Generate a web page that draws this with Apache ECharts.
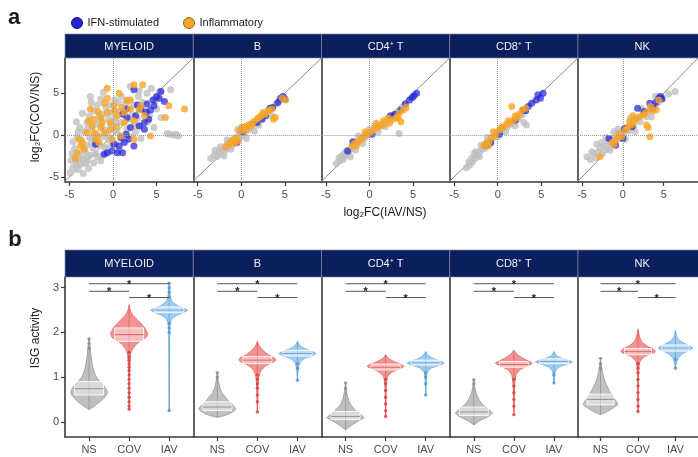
<!DOCTYPE html>
<html><head><meta charset="utf-8">
<script src="https://cdn.jsdelivr.net/npm/echarts@6/dist/echarts.min.js"></script>
<style>html,body{margin:0;padding:0;background:#fff}#c{width:698px;height:457px}</style>
</head><body><div id="c"></div>
<script>
// ---------------- DATA ----------------
const FACETS = ['MYELOID', 'B', 'CD4⁺ T', 'CD8⁺ T', 'NK'];
const GROUPS = ['NS', 'COV', 'IAV'];
const X_TICKS_A = [-5, 0, 5];
const Y_TICKS_A = [-5, 0, 5];
const Y_TICKS_B = [0, 1, 2, 3];

// panel a : log2FC(IAV/NS) vs log2FC(COV/NS)
const MYELOID_GRAY = [[-4.9,-4.5],[-4.6,-3.9],[-4.3,-3.2],[-4.8,-3.0],[-4.0,-4.1],[-3.7,-3.5],[-3.5,-2.8],[-3.9,-2.2],[-4.4,-1.6],[-3.2,-2.0],[-2.9,-3.0],[-2.6,-2.4],[-3.0,-1.2],[-3.6,-0.6],[-4.1,-0.2],[-3.3,0.4],[-2.7,-0.3],[-2.3,-1.5],[-2.0,-2.2],[-1.6,-1.2],[-2.4,0.9],[-3.0,1.5],[-2.7,2.3],[-2.2,2.9],[-1.8,3.6],[-2.5,3.9],[-1.4,4.3],[-1.1,2.5],[-1.5,1.6],[-0.9,0.6],[-0.5,-0.6],[-1.2,-0.2],[-0.3,1.2],[0.2,2.0],[0.5,0.3],[0.9,1.5],[1.3,3.1],[0.6,3.9],[1.0,4.6],[2.0,5.8],[1.7,4.0],[2.4,3.6],[2.9,4.6],[3.4,3.9],[3.9,5.0],[4.4,5.6],[3.6,2.9],[4.8,4.0],[5.0,3.1],[5.5,2.1],[4.7,0.9],[4.0,1.6],[3.1,1.0],[2.6,0.4],[2.1,-0.2],[1.6,0.7],[6.6,5.4],[6.5,0.1],[6.9,0.0],[7.2,0.1],[7.5,-0.1],[6.2,0.2],[-1.9,0.2],[-2.8,-4.0],[-3.4,-4.6],[-4.5,-2.6],[-1.0,-1.4],[-0.6,0.0],[0.0,0.8],[-0.2,2.7],[-0.8,3.3],[-1.3,1.0],[-3.8,0.9],[-4.2,1.6],[-2.0,-0.8],[0.3,-1.0],[1.1,-0.5],[-4.7,-2.2],[-3.1,-3.4],[-2.2,-3.3],[2.2,2.4],[2.8,2.0],[3.2,-0.4],[5.3,5.2],[-3.8,-2.9],[-3.4,-1.4],[-2.5,-1.0],[-1.8,-2.6],[-1.2,-2.4],[-0.8,-1.6],[-2.9,0.8],[-2.0,1.3],[-1.6,2.4],[-0.5,1.9],[0.4,1.5],[0.8,2.8],[1.4,3.8],[0.2,4.2],[-0.4,3.6],[-3.5,2.6],[-4.0,0.4],[-4.6,-0.8],[-1.4,-3.1],[-0.2,-1.3],[1.9,1.9],[2.5,1.1],[0.7,-1.8],[-2.6,4.6],[-1.1,5.1],[3.0,5.3],[4.2,2.4],[-4.2,-3.6],[-3.0,-2.6],[-2.3,-0.3]];
const MYELOID_IFN = [[2.4,5.4],[5.5,5.2],[5.3,4.4],[4.6,4.2],[5.9,4.0],[3.9,3.7],[4.7,3.5],[3.2,3.1],[3.8,2.7],[1.6,3.1],[1.1,2.5],[1.6,2.1],[2.6,2.3],[3.6,1.5],[3.6,0.7],[2.0,0.9],[1.5,0.1],[0.9,-0.3],[1.8,-0.5],[1.3,-0.9],[0.7,-1.3],[0.1,-1.1],[-0.65,-2.1],[-1.0,-2.3],[-0.1,-1.9],[1.1,-2.1],[-2.0,-1.1],[2.4,-1.3],[0.5,-2.1],[3.0,1.1],[4.1,1.9],[5.0,4.6],[4.3,3.0],[2.8,3.6]];
const MYELOID_INFL = [[-0.65,5.6],[2.4,6.0],[3.4,6.0],[-0.65,4.4],[0.7,5.0],[-1.0,3.8],[-2.6,3.1],[-2.2,1.9],[-2.4,1.1],[-3.9,-0.5],[-4.1,-2.1],[-3.7,-1.3],[-1.8,-0.1],[-1.0,0.3],[-0.3,1.5],[0.5,2.3],[1.3,2.7],[2.0,3.1],[3.2,3.5],[3.6,2.3],[6.4,3.5],[8.2,3.1],[6.0,2.1],[4.3,-0.1],[2.4,-0.5],[0.9,-0.1],[-0.1,-0.5],[-1.4,0.9],[-3.0,0.3],[-0.65,2.7],[-1.4,2.1],[0.1,3.5],[-2.2,0.3],[-3.3,-1.7],[-1.6,-0.9],[1.3,1.5],[2.4,1.7],[1.6,4.2],[-2.0,-0.5],[2.0,4.2],[-1.7,2.8],[-0.3,0.6],[0.4,1.0],[1.0,3.3],[-2.8,1.7],[-1.2,1.6],[0.2,2.9],[3.0,3.0],[-4.3,-2.8],[-3.5,-0.9]];

const B_GRAY = [[-3.5,-2.8],[-3.1,-2.4],[-2.8,-2.6],[-2.6,-2.0],[-2.3,-2.2],[-2.1,-1.6],[-1.9,-1.9],[-1.7,-1.2],[-1.5,-1.5],[-1.3,-0.9],[-1.1,-1.2],[-0.9,-0.5],[-0.7,-0.8],[-0.5,-0.2],[-0.3,-0.5],[-0.1,0.2],[0.1,-0.1],[0.3,0.6],[0.5,0.3],[0.8,1.0],[1.0,0.7],[1.3,1.3],[1.7,1.6],[2.2,2.0],[2.6,2.5],[3.1,2.9],[3.5,3.2],[4.0,3.7],[4.4,4.1],[-2.4,-1.4],[-2.0,-2.5],[-1.2,-1.7],[-0.4,0.7],[0.6,-0.4],[1.5,0.5],[-3.0,-1.8],[-1.6,-0.6],[0.0,0.9],[2.0,1.2],[3.5,2.3]];
const B_IFN = [[4.5,4.4],[4.8,4.6],[3.6,3.3],[2.8,2.3],[2.4,1.9],[4.2,3.9],[3.3,3.2],[1.8,1.5],[-0.5,-0.9],[0.2,0.4],[5.0,4.3]];
const B_INFL = [[-1.2,-0.8],[-0.9,-0.6],[-0.6,-0.4],[-0.4,-0.7],[-1.4,-1.1],[-0.8,-1.0],[0.1,0.9],[0.4,1.0],[0.8,1.2],[1.1,1.3],[1.4,1.6],[1.8,1.9],[2.0,2.1],[2.3,2.3],[2.7,2.5],[3.0,2.8],[3.2,2.9],[3.5,3.1],[3.9,2.1],[3.7,1.9],[4.7,4.4],[5.1,4.2],[0.6,0.7],[-0.2,0.5],[1.2,1.1],[-1.8,-1.4],[2.5,2.7],[0.3,0.5]];

const CD4_GRAY = [[-3.8,-3.4],[-3.4,-3.1],[-3.0,-2.9],[-3.2,-2.5],[-2.7,-2.4],[-2.4,-2.1],[-2.6,-1.8],[-2.1,-1.6],[-1.8,-1.4],[-1.9,-1.0],[-1.5,-0.9],[-1.2,-0.7],[-0.9,-0.3],[-0.6,-0.4],[-0.4,0.1],[-0.1,0.2],[0.2,0.4],[0.5,0.7],[0.9,0.8],[1.2,1.2],[1.6,1.4],[2.0,1.6],[2.4,2.0],[2.9,2.4],[3.3,2.8],[3.4,0.2],[-3.5,-2.7],[-2.9,-2.2],[-1.6,-1.8],[-0.8,-1.0],[0.0,0.7],[1.0,0.4],[-2.2,-2.6],[-1.3,-0.1],[0.6,1.2],[1.8,1.0]];
const CD4_IFN = [[4.6,4.2],[5.4,5.0],[4.9,4.5],[4.1,3.7],[3.6,3.0],[2.9,2.5],[-2.5,-1.9],[-1.9,-0.8],[0.3,0.1],[2.4,2.3],[5.1,4.7]];
const CD4_INFL = [[-2.0,-1.3],[-1.7,-1.0],[-1.3,-0.8],[-1.0,-0.5],[-0.7,-0.2],[-0.3,0.0],[0.0,0.3],[0.3,0.5],[0.6,0.8],[1.0,1.0],[1.4,1.1],[1.8,1.4],[2.3,1.4],[2.7,1.9],[3.1,2.1],[3.3,2.0],[3.6,1.6],[3.4,2.6],[3.9,3.0],[4.2,3.3],[0.8,1.4],[-0.5,0.4],[1.6,1.7],[2.1,2.0],[-1.5,-1.3]];

const CD8_GRAY = [[-3.6,-3.9],[-3.2,-3.6],[-2.9,-3.2],[-3.0,-2.8],[-2.6,-2.8],[-2.3,-2.4],[-2.5,-2.0],[-2.0,-1.9],[-1.7,-1.5],[-1.9,-1.2],[-1.4,-1.0],[-1.1,-0.8],[-0.8,-0.4],[-0.5,-0.3],[-0.2,0.1],[0.1,0.3],[0.4,0.4],[0.7,0.8],[1.1,1.0],[1.5,1.3],[1.9,1.5],[2.4,1.9],[2.8,2.4],[3.3,1.2],[3.0,1.5],[-3.3,-3.2],[-2.7,-2.2],[-1.5,-1.6],[-0.9,-1.0],[0.0,-0.2],[0.9,0.4],[-2.1,-2.6],[2.0,1.1],[-1.2,-0.3]];
const CD8_IFN = [[5.2,5.0],[4.9,4.4],[3.9,3.8],[3.5,3.4],[2.95,3.0],[4.4,4.2],[2.0,1.8],[-1.3,-1.2],[-0.8,-0.9],[0.2,0.1],[4.6,4.8],[3.2,2.9]];
const CD8_INFL = [[-1.6,-1.2],[-1.3,-1.0],[-1.0,-0.8],[-0.7,-0.3],[-0.5,0.4],[-0.2,0.3],[0.2,0.6],[0.6,1.0],[1.0,1.3],[1.4,1.5],[1.8,1.8],[2.2,2.1],[2.5,2.5],[2.8,3.0],[1.6,3.4],[3.2,3.2],[-1.1,-1.3],[0.4,0.9],[1.2,1.7],[2.0,2.3],[-0.3,-0.1]];

const NK_GRAY = [[-4.0,-2.9],[-3.6,-2.2],[-3.3,-2.7],[-3.0,-2.0],[-2.8,-1.5],[-2.5,-2.2],[-2.3,-1.3],[-2.0,-1.7],[-1.8,-0.8],[-1.5,-1.1],[-1.3,-0.4],[-1.0,-0.8],[-0.8,0.0],[-0.5,-0.4],[-0.2,0.4],[0.1,0.0],[0.4,0.9],[0.7,0.5],[1.0,1.4],[1.3,1.0],[1.7,1.9],[2.1,1.6],[2.5,2.6],[2.9,2.2],[3.3,3.1],[3.8,3.5],[4.3,3.9],[4.8,4.5],[6.4,5.2],[5.6,4.9],[-3.8,-2.0],[-2.6,-0.9],[-1.6,-1.8],[-0.6,0.7],[0.3,-0.5],[1.5,0.4],[2.3,3.1],[-3.2,-1.1],[-2.1,-0.3],[-1.1,0.4],[0.9,2.0],[3.5,2.2],[4.0,4.6],[-4.4,-2.6]];
const NK_IFN = [[-1.7,-0.4],[0.0,-0.4],[0.2,0.8],[1.8,3.2],[3.3,3.8],[3.7,3.2],[4.6,4.6],[4.0,3.9],[4.4,4.4],[2.6,2.8],[-0.9,-1.2],[1.1,1.0],[4.8,4.3]];
const NK_INFL = [[-2.8,-2.6],[-0.9,-0.6],[-0.15,-0.2],[1.0,1.2],[1.6,2.0],[2.5,2.4],[2.9,1.2],[3.3,-0.2],[4.1,3.0],[4.4,4.2],[-1.3,-0.9],[-0.6,-0.3],[0.3,0.6],[0.6,0.9],[1.3,1.5],[2.0,2.2],[2.8,2.7],[3.1,0.9],[3.6,2.9],[-0.4,0.2],[1.2,2.3],[3.4,3.4],[-1.1,-1.1],[0.8,1.6]];

// panel b : ISG activity violins, profile = [y, relative half-width]
const VIOLIN_MYELOID = [
  [[1.88,0],[1.7,0.05],[1.5,0.1],[1.3,0.17],[1.15,0.25],[1.0,0.4],[0.9,0.6],[0.8,0.82],[0.7,0.97],[0.65,1.0],[0.55,0.85],[0.45,0.6],[0.37,0.35],[0.3,0.1],[0.27,0]],
  [[2.62,0],[2.5,0.06],[2.4,0.18],[2.3,0.4],[2.2,0.65],[2.1,0.85],[2.0,0.98],[1.95,1.0],[1.88,0.9],[1.8,0.6],[1.72,0.35],[1.6,0.15],[1.5,0.08],[1.3,0.04],[1.0,0.02],[0.6,0.01],[0.28,0]],
  [[3.1,0],[2.95,0.03],[2.8,0.06],[2.7,0.15],[2.6,0.45],[2.52,0.9],[2.5,1.0],[2.45,0.8],[2.38,0.4],[2.3,0.15],[2.2,0.06],[2.0,0.03],[1.5,0.02],[0.25,0]]
];
const VIOLIN_B = [
  [[1.1,0],[0.95,0.05],[0.8,0.12],[0.65,0.25],[0.55,0.45],[0.45,0.65],[0.35,0.9],[0.28,1.0],[0.2,0.75],[0.14,0.4],[0.1,0]],
  [[1.8,0],[1.7,0.1],[1.6,0.3],[1.5,0.6],[1.42,0.95],[1.38,1.0],[1.32,0.8],[1.25,0.45],[1.15,0.2],[1.0,0.08],[0.8,0.04],[0.5,0.02],[0.22,0]],
  [[1.8,0],[1.72,0.1],[1.65,0.35],[1.58,0.75],[1.53,1.0],[1.48,0.8],[1.42,0.4],[1.33,0.15],[1.2,0.05],[0.93,0]]
];
const VIOLIN_CD4 = [
  [[0.87,0],[0.7,0.05],[0.55,0.12],[0.4,0.25],[0.3,0.45],[0.2,0.7],[0.12,0.95],[0.09,1.0],[0.02,0.7],[-0.07,0.35],[-0.18,0]],
  [[1.5,0],[1.42,0.15],[1.35,0.45],[1.28,0.85],[1.24,1.0],[1.18,0.7],[1.1,0.3],[1.0,0.1],[0.8,0.04],[0.5,0.02],[0.12,0]],
  [[1.57,0],[1.48,0.15],[1.4,0.5],[1.34,0.9],[1.31,1.0],[1.26,0.7],[1.2,0.3],[1.1,0.08],[0.9,0.03],[0.6,0]]
];
const VIOLIN_CD8 = [
  [[0.94,0],[0.8,0.05],[0.65,0.12],[0.5,0.28],[0.38,0.5],[0.28,0.8],[0.19,1.0],[0.1,0.7],[0.02,0.3],[-0.07,0]],
  [[1.6,0],[1.5,0.2],[1.42,0.5],[1.35,0.85],[1.31,1.0],[1.25,0.75],[1.17,0.35],[1.05,0.12],[0.8,0.04],[0.5,0.02],[0.16,0]],
  [[1.57,0],[1.48,0.15],[1.42,0.45],[1.37,0.85],[1.34,1.0],[1.29,0.7],[1.23,0.3],[1.13,0.08],[0.87,0]]
];
const VIOLIN_NK = [
  [[1.42,0],[1.25,0.05],[1.1,0.12],[0.95,0.22],[0.8,0.38],[0.65,0.58],[0.52,0.8],[0.42,0.97],[0.38,1.0],[0.3,0.7],[0.22,0.35],[0.16,0]],
  [[2.07,0],[1.95,0.06],[1.8,0.2],[1.7,0.5],[1.62,0.9],[1.57,1.0],[1.52,0.75],[1.45,0.35],[1.35,0.12],[1.2,0.05],[0.8,0.02],[0.23,0]],
  [[2.04,0],[1.9,0.08],[1.8,0.3],[1.72,0.7],[1.65,1.0],[1.6,0.8],[1.52,0.4],[1.42,0.15],[1.3,0.05],[1.2,0]]
];
// [q1, median, q3] for NS, COV, IAV
const BOX_MYELOID = [[0.6,0.74,0.9],[1.8,1.95,2.1],[2.44,2.5,2.57]];
const BOX_B = [[0.25,0.33,0.45],[1.3,1.38,1.46],[1.47,1.53,1.6]];
const BOX_CD4 = [[0.05,0.12,0.23],[1.16,1.22,1.29],[1.27,1.32,1.38]];
const BOX_CD8 = [[0.14,0.22,0.33],[1.22,1.28,1.35],[1.3,1.35,1.41]];
const BOX_NK = [[0.38,0.5,0.62],[1.5,1.57,1.64],[1.58,1.65,1.72]];
// individual outlying cells
const DOTS_MYELOID = [[1.85,1.75,1.65],[1.55,1.45,1.38,1.3,1.22,1.15,1.05,0.95,0.85,0.75,0.65,0.55,0.45,0.35,0.28],[3.1,3.0,2.9,2.8,2.2,2.1,2.0,0.25]];
const DOTS_B = [[1.1,1.0],[1.05,0.95,0.85,0.75,0.6,0.45,0.22],[1.3,1.2,0.93]];
const DOTS_CD4 = [[0.87,0.75],[0.95,0.85,0.7,0.55,0.4,0.25,0.12],[1.1,1.0,0.85,0.6]];
const DOTS_CD8 = [[0.94,0.85],[0.95,0.8,0.65,0.5,0.35,0.16],[1.05,0.87]];
const DOTS_NK = [[1.42,1.3,1.2],[1.3,1.2,1.1,0.95,0.8,0.65,0.5,0.35,0.23],[1.4,1.2]];
// significance brackets: [from group, to group, y]
const BRACKETS = [[1,3,3.09],[1,2,2.92],[2,3,2.78]];

// ---------------- CHART ----------------
const GRAY = [MYELOID_GRAY, B_GRAY, CD4_GRAY, CD8_GRAY, NK_GRAY];
const IFN = [MYELOID_IFN, B_IFN, CD4_IFN, CD8_IFN, NK_IFN];
const INFL = [MYELOID_INFL, B_INFL, CD4_INFL, CD8_INFL, NK_INFL];
const VIOLINS = [VIOLIN_MYELOID, VIOLIN_B, VIOLIN_CD4, VIOLIN_CD8, VIOLIN_NK];
const BOXES = [BOX_MYELOID, BOX_B, BOX_CD4, BOX_CD8, BOX_NK];
const DOTS = [DOTS_MYELOID, DOTS_B, DOTS_CD4, DOTS_CD8, DOTS_NK];

const FONT = '"Liberation Sans", Arial, Helvetica, sans-serif';
const L0 = 65, FW = 128.25;
const A_TOP = 58, A_H = 124, B_TOP = 277, B_H = 160;
const AX = '#3a3a3a', LAB = '#4d4d4d';
const VFILL = ['rgba(185,185,185,0.9)', 'rgba(240,135,135,0.9)', 'rgba(150,197,238,0.9)'];
const VLINE = ['#939393', '#e26060', '#68a6dd'];
const VDOT = ['#8a8a8a', '#dd3c3c', '#4d92d6'];
const VHW = 0.46, BHW = 0.36;

const grids = [], xAxes = [], yAxes = [], series = [], graphics = [];

function axisBase(extra) {
  return Object.assign({
    axisLine: { show: true, onZero: false, lineStyle: { color: AX, width: 1.6 } },
    splitLine: { show: false }
  }, extra);
}

for (let i = 0; i < 5; i++) {
  grids.push({ left: L0 + i * FW, top: A_TOP, width: FW, height: A_H });
  xAxes.push(axisBase({ type: 'value', gridIndex: i, min: -5.5, max: 9.2,
    axisTick: { show: true, length: 4, customValues: X_TICKS_A, lineStyle: { color: AX, width: 1.2 } },
    axisLabel: { show: true, customValues: X_TICKS_A, margin: 7, color: LAB, fontSize: 11, fontFamily: FONT } }));
  yAxes.push(axisBase({ type: 'value', gridIndex: i, min: -5.6, max: 9.2,
    axisTick: { show: i === 0, length: 4, customValues: Y_TICKS_A, lineStyle: { color: AX, width: 1.2 } },
    axisLabel: { show: i === 0, customValues: Y_TICKS_A, margin: 6, color: LAB, fontSize: 11, fontFamily: FONT } }));
}
for (let i = 0; i < 5; i++) {
  grids.push({ left: L0 + i * FW, top: B_TOP, width: FW, height: B_H });
  xAxes.push(axisBase({ type: 'value', gridIndex: 5 + i, min: 0.4, max: 3.6,
    axisTick: { show: true, length: 4, customValues: [1, 2, 3], lineStyle: { color: AX, width: 1.2 } },
    axisLabel: { show: true, customValues: [1, 2, 3], margin: 7, color: LAB, fontSize: 11, fontFamily: FONT,
      formatter: v => GROUPS[Math.round(v) - 1] } }));
  yAxes.push(axisBase({ type: 'value', gridIndex: 5 + i, min: -0.34, max: 3.24,
    axisTick: { show: i === 0, length: 4, customValues: Y_TICKS_B, lineStyle: { color: AX, width: 1.2 } },
    axisLabel: { show: i === 0, customValues: Y_TICKS_B, margin: 6, color: LAB, fontSize: 11, fontFamily: FONT } }));
}

for (let i = 0; i < 5; i++) {
  series.push({
    type: 'line', xAxisIndex: i, yAxisIndex: i, data: [[-6, -6], [10, 10]], symbol: 'none', clip: true, silent: true,
    lineStyle: { color: '#8c8c8c', width: 1 }, z: 1, animation: false,
    markLine: { silent: true, symbol: 'none', label: { show: false }, animation: false,
      lineStyle: { type: 'dotted', color: '#9a9a9a', width: 1 },
      data: [{ xAxis: 0 }, { yAxis: 0 }] }
  });
  series.push({ type: 'scatter', name: 'other', xAxisIndex: i, yAxisIndex: i, data: GRAY[i], symbolSize: 7,
    itemStyle: { color: '#bfbfbf', opacity: 0.8 }, z: 2, silent: true, animation: false });
  series.push({ type: 'scatter', name: 'IFN-stimulated', xAxisIndex: i, yAxisIndex: i, data: IFN[i], symbolSize: 7,
    itemStyle: { color: '#2020d8', opacity: 0.7 }, z: 3, silent: true, animation: false });
  series.push({ type: 'scatter', name: 'Inflammatory', xAxisIndex: i, yAxisIndex: i, data: INFL[i], symbolSize: 7,
    itemStyle: { color: '#f7a526', opacity: 0.8 }, z: 4, silent: true, animation: false });

  series.push({
    type: 'custom', xAxisIndex: 5 + i, yAxisIndex: 5 + i, data: [[1, 0], [2, 0], [3, 0]], silent: true, animation: false, clip: false,
    renderItem: (params, api) => {
      const g = params.dataIndex, c = g + 1;
      const prof = VIOLINS[i][g];
      const right = prof.map(p => api.coord([c + p[1] * VHW, p[0]]));
      const left = prof.slice().reverse().map(p => api.coord([c - p[1] * VHW, p[0]]));
      const top = prof[0][0], bot = prof[prof.length - 1][0];
      const children = [];
      children.push({ type: 'polygon', shape: { points: right.concat(left), smooth: 0.2 },
        style: { fill: VFILL[g], stroke: VLINE[g], lineWidth: 0.8 } });
      const pt = api.coord([c, top]), pb = api.coord([c, bot]);
      children.push({ type: 'line', shape: { x1: pt[0], y1: pt[1], x2: pb[0], y2: pb[1] },
        style: { stroke: VLINE[g], lineWidth: 0.8 } });
      DOTS[i][g].forEach(y => {
        const p = api.coord([c, y]);
        children.push({ type: 'circle', shape: { cx: p[0], cy: p[1], r: 1.7 }, style: { fill: VDOT[g], opacity: 0.8 } });
      });
      const bx = BOXES[i][g];
      const b1 = api.coord([c - BHW, bx[2]]), b2 = api.coord([c + BHW, bx[0]]);
      children.push({ type: 'rect', shape: { x: b1[0], y: b1[1], width: b2[0] - b1[0], height: b2[1] - b1[1] },
        style: { fill: 'rgba(255,255,255,0.42)', stroke: 'rgba(255,255,255,0.85)', lineWidth: 1 } });
      const m1 = api.coord([c - BHW, bx[1]]), m2 = api.coord([c + BHW, bx[1]]);
      children.push({ type: 'line', shape: { x1: m1[0], y1: m1[1], x2: m2[0], y2: m2[1] },
        style: { stroke: VLINE[g], lineWidth: 1 } });
      return { type: 'group', children };
    }
  });
  series.push({
    type: 'custom', xAxisIndex: 5 + i, yAxisIndex: 5 + i, data: BRACKETS, silent: true, animation: false, clip: false,
    renderItem: (params, api) => {
      const p1 = api.coord([api.value(0), api.value(2)]), p2 = api.coord([api.value(1), api.value(2)]);
      return { type: 'group', children: [
        { type: 'line', shape: { x1: p1[0], y1: p1[1], x2: p2[0], y2: p2[1] }, style: { stroke: '#555', lineWidth: 1 } },
        { type: 'text', x: (p1[0] + p2[0]) / 2, y: p1[1] + 1, style: { text: '*', fill: '#222', font: 'bold 11px ' + FONT,
          align: 'center', verticalAlign: 'middle', textAlign: 'center', textVerticalAlign: 'middle' } }
      ] };
    }
  });

  [[34, 24], [250, 27]].forEach(([sy, sh]) => {
    graphics.push({ type: 'rect', shape: { x: L0 + i * FW, y: sy, width: FW, height: sh },
      style: { fill: '#0b1f5c', stroke: '#7d86a6', lineWidth: 0.7 }, z: 10 });
    graphics.push({ type: 'text', x: L0 + i * FW + FW / 2, y: sy + sh / 2 + 0.5,
      style: { text: FACETS[i], fill: '#eef1f8', font: '11px ' + FONT, align: 'center', verticalAlign: 'middle',
        textAlign: 'center', textVerticalAlign: 'middle' }, z: 11 });
  });
}

function txt(x, y, text, font, opts) {
  return Object.assign({ type: 'text', x, y, style: { text, fill: '#1a1a1a', font,
    align: 'center', verticalAlign: 'middle', textAlign: 'center', textVerticalAlign: 'middle' }, z: 12 }, opts || {});
}
graphics.push(txt(14, 18, 'a', 'bold 22px ' + FONT));
graphics.push(txt(15, 240, 'b', 'bold 22px ' + FONT));
graphics.push(txt(385, 213, 'log₂FC(IAV/NS)', '12px ' + FONT));
graphics.push(txt(36, 117, 'log₂FC(COV/NS)', '12px ' + FONT, { rotation: Math.PI / 2 }));
graphics.push(txt(36, 338, 'ISG activity', '12px ' + FONT, { rotation: Math.PI / 2 }));

const chart = echarts.init(document.getElementById('c'));
chart.setOption({
  animation: false,
  backgroundColor: '#fff',
  legend: {
    left: 66, top: 12, itemWidth: 11, itemHeight: 11, itemGap: 24, selectedMode: false,
    textStyle: { fontSize: 11, color: '#222', fontFamily: FONT },
    data: [
      { name: 'IFN-stimulated', icon: 'circle', itemStyle: { color: '#2424d6', borderColor: '#14146e', borderWidth: 1, opacity: 1 } },
      { name: 'Inflammatory', icon: 'circle', itemStyle: { color: '#f5a52a', borderColor: '#9c6a10', borderWidth: 1, opacity: 1 } }
    ]
  },
  grid: grids, xAxis: xAxes, yAxis: yAxes, series, graphic: graphics
});
</script></body></html>
